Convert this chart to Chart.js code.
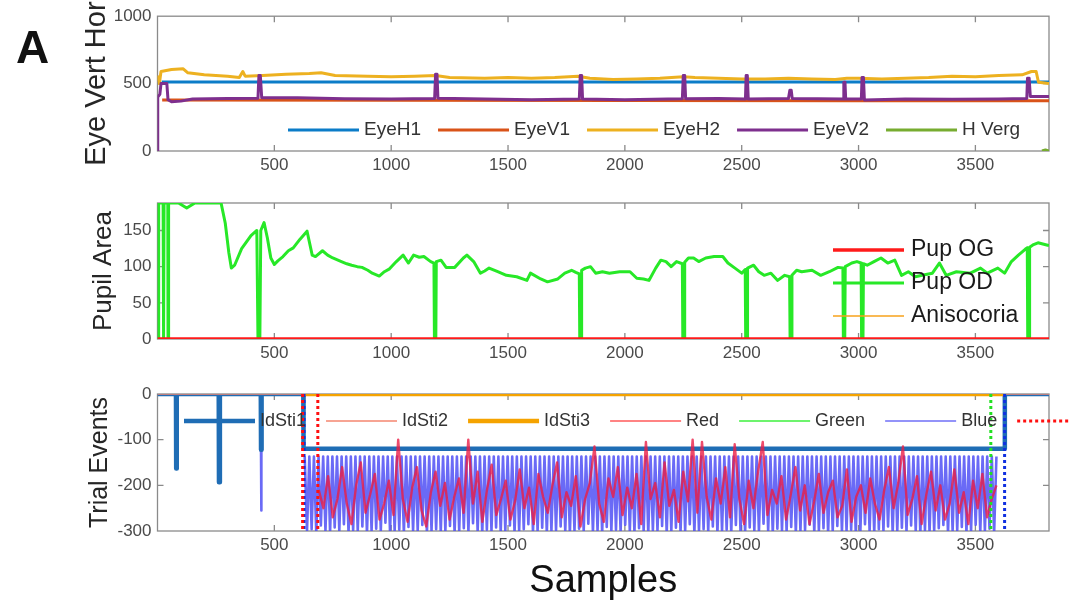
<!DOCTYPE html>
<html>
<head>
<meta charset="utf-8">
<script src="https://cdn.jsdelivr.net/npm/chart.js@4.4.1/dist/chart.umd.min.js"></script>
<style>
  body { margin: 0; background: #fff; }
  #wrap { position: relative; width: 1069px; height: 601px; overflow: hidden; background: #fff; }
  #wrap canvas { position: absolute; left: 0; }
  #panelA { position: absolute; left: 16px; top: 24px; font: bold 46px/46px "Liberation Sans", Arial, sans-serif; color: #111; }
</style>
</head>
<body>
<div id="wrap">
  <canvas id="eye" width="1069" height="185" style="top:0"></canvas>
  <canvas id="pupil" width="1069" height="190" style="top:185px"></canvas>
  <canvas id="trial" width="1069" height="226" style="top:375px"></canvas>
  <div id="panelA">A</div>
</div>
<script>
const FONT = '"Liberation Sans", Arial, sans-serif';
const TICK_COLOR = '#4a4a4a';
const X_MAX = 3815;
const xTickVals = [500, 1000, 1500, 2000, 2500, 3000, 3500];
const eyeYTicks = [0, 500, 1000];
const pupilYTicks = [0, 50, 100, 150];
const trialYTicks = [-300, -200, -100, 0];

// ---- panel 1: eye position, [sample, value]
const eyeH1 = [[18, 512], [3815, 512]];
const eyeV1 = [[20, 378], [1000, 376], [2000, 374], [3000, 373], [3815, 372]];
const eyeH2 = [[0, 560], [8, 500], [15, 590], [60, 605], [110, 610], [130, 580], [200, 565], [300, 555],
  [350, 545], [365, 590], [375, 555], [450, 560], [550, 570], [650, 575], [700, 580], [760, 560],
  [900, 555], [1000, 550], [1100, 555], [1190, 560], [1250, 545], [1400, 540], [1500, 545], [1600, 540],
  [1700, 545], [1800, 555], [1850, 540], [1950, 530], [2050, 535], [2150, 540], [2250, 550], [2300, 545],
  [2400, 540], [2500, 535], [2600, 535], [2700, 540], [2800, 535], [2900, 530], [2950, 540], [3000, 540],
  [3100, 535], [3200, 540], [3300, 545], [3400, 555], [3500, 550], [3600, 560], [3700, 565], [3740, 590],
  [3760, 590], [3770, 510], [3815, 500]];
const eyeV2 = [[0, 0], [1, 400], [10, 420], [15, 500], [40, 500], [45, 380], [60, 365], [100, 370],
  [150, 385], [300, 390], [430, 392], [434, 560], [440, 560], [446, 395], [600, 395], [800, 388],
  [1000, 385], [1186, 390], [1190, 570], [1196, 570], [1200, 392], [1400, 385], [1600, 380], [1805, 385],
  [1809, 560], [1815, 560], [1819, 385], [2000, 380], [2246, 388], [2250, 560], [2256, 560], [2260, 388],
  [2400, 390], [2516, 385], [2519, 560], [2524, 560], [2528, 385], [2700, 390], [2706, 450], [2712, 450],
  [2716, 390], [2934, 385], [2937, 510], [2942, 510], [2945, 385], [3012, 385], [3015, 545], [3021, 545],
  [3025, 378], [3200, 385], [3400, 383], [3600, 385], [3720, 390], [3723, 540], [3730, 540], [3735, 405],
  [3815, 405]];
const hVerg = [[3785, 0], [3800, 8], [3815, 0]];

// ---- panel 2: pupil area
const pupOG = [[0, 0], [3815, 0]];
const aniso = [[0, 0], [3815, 0]];
const pupOD = [[0, 0], [4, 0], [5, 188], [24, 188], [25, 0], [27, 0], [28, 188], [44, 188], [45, 0], [47, 0], [48, 188],
  [90, 188], [125, 181], [160, 188], [272, 188], [290, 160], [305, 120], [316, 98], [330, 102], [360, 125],
  [400, 143], [425, 150], [430, 0], [438, 0], [442, 150], [456, 161], [470, 140], [485, 112], [500, 103],
  [515, 108], [537, 114], [560, 122], [581, 126], [610, 138], [640, 149], [662, 116], [676, 114], [706, 122],
  [728, 116], [750, 112], [787, 107], [810, 104], [831, 102], [855, 100], [875, 99], [900, 95], [919, 91],
  [949, 87], [971, 93], [993, 97], [1022, 107], [1051, 116], [1074, 105], [1096, 116], [1120, 113],
  [1140, 114], [1169, 107], [1183, 105], [1185, 0], [1191, 0], [1193, 107], [1213, 109], [1235, 99],
  [1272, 99], [1309, 112], [1324, 116], [1353, 107], [1382, 91], [1400, 94], [1419, 98], [1456, 93],
  [1493, 88], [1537, 86], [1581, 81], [1596, 91], [1640, 83], [1669, 79], [1713, 83], [1743, 91],
  [1772, 95], [1790, 92], [1805, 90], [1807, 0], [1813, 0], [1815, 95], [1831, 98], [1853, 100], [1875, 91],
  [1904, 93], [1934, 91], [1978, 93], [2022, 93], [2051, 84], [2080, 83], [2103, 81], [2132, 98],
  [2154, 109], [2176, 107], [2198, 100], [2221, 107], [2246, 104], [2248, 0], [2254, 0], [2256, 106],
  [2272, 112], [2294, 112], [2316, 107], [2346, 112], [2382, 114], [2419, 114], [2441, 105], [2471, 98],
  [2500, 91], [2515, 96], [2517, 0], [2523, 0], [2525, 98], [2551, 102], [2573, 93], [2596, 88],
  [2625, 91], [2654, 81], [2684, 88], [2705, 86], [2707, 0], [2713, 0], [2715, 88], [2735, 95],
  [2757, 93], [2801, 95], [2838, 88], [2875, 93], [2912, 99], [2933, 98], [2935, 0], [2941, 0],
  [2943, 100], [2971, 105], [2993, 107], [3011, 105], [3013, 0], [3019, 0], [3021, 104], [3037, 102],
  [3066, 107], [3096, 112], [3125, 105], [3155, 109], [3184, 88], [3213, 93], [3243, 86], [3272, 88],
  [3316, 91], [3346, 105], [3375, 88], [3419, 93], [3478, 91], [3522, 98], [3551, 91], [3596, 98],
  [3625, 91], [3654, 107], [3684, 116], [3713, 124], [3722, 126], [3724, 0], [3730, 0], [3732, 127],
  [3746, 130], [3768, 133], [3805, 130], [3815, 129]];

// ---- panel 3: trial events
const idSti1 = [[0, 0], [79, 0], [80, -163], [82, -163], [83, 0], [262, 0], [263, -193], [266, -193], [267, 0],
  [442, 0], [443, -122], [445, -122], [446, 0], [624, 0], [625, -120], [3625, -120], [3626, 0], [3815, 0]];
const idSti2 = [[0, 0], [3815, 0]];
const idSti3 = [[625, 0], [3625, 0]];
const greenTrace = [];
const redStart = 690, redStep = 20;
const redVals = [
  -210, -250, -180, -270, -230, -160, -240, -285, -200, -150,
  -260, -220, -175, -275, -240, -190, -265, -100, -230, -280,
  -205, -160, -255, -290, -215, -170, -245, -195, -275, -225,
  -185, -260, -100, -240, -170, -280, -210, -155, -265, -230,
  -190, -275, -235, -165, -250, -205, -285, -175, -225, -260,
  -200, -150, -270, -215, -245, -180, -290, -230, -195, -115,
  -240, -280, -185, -225, -160, -265, -205, -250, -175, -285,
  -105, -230, -195, -270, -150, -245, -210, -280, -170, -235,
  -100, -260, -105, -225, -275, -185, -240, -160, -270, -110,
  -230, -285, -190, -250, -170, -105, -265, -210, -240, -180,
  -275, -220, -160, -255, -200, -285, -235, -175, -260, -215,
  -190, -270, -245, -165, -280, -225, -200, -260, -185, -240,
  -275, -210, -160, -250, -195, -115, -265, -230, -180, -285,
  -220, -170, -255, -200, -275, -240, -165, -260, -215, -285,
  -190, -250, -175, -270, -230, -200];
const blueLead = [[443, -125], [444, -255], [445, -125]];
const blueStart = 630, blueEnd = 3590, blueTop = -137;
const blueLows = [
  -300, -296, -305, -288, -300, -302, -292, -300, -285, -304, -298, -300, -290, -306, -300,
  -295, -300, -282, -303, -300, -297, -305, -291, -300, -299, -287, -304, -300, -296, -302,
  -300, -289, -305, -300, -294, -301, -283, -300, -306, -297, -300, -292, -303, -300, -288,
  -304, -300, -296, -285, -302, -300, -293, -305, -300, -298, -290, -301, -306, -300, -295,
  -300, -284, -303, -299, -305, -291, -300, -297, -302, -286, -300, -304, -294, -300, -305,
  -298, -300, -289, -306, -300, -293, -302, -300, -285, -304, -300, -296, -301, -290, -305,
  -300, -297, -303, -287, -300, -305, -292, -299, -301, -284, -300, -306, -295, -300, -302,
  -291, -304, -300, -298, -286, -303, -300, -294, -305, -300, -289, -302, -300, -297, -306,
  -300, -285, -301, -304, -296, -300, -290, -305, -300, -293, -302, -288, -300, -306, -299,
  -303, -300, -294, -287, -305, -300, -298, -291, -304, -300, -286, -302, -300, -295, -305];
const redMarks = [621, 686];
const greenMarks = [3566];
const blueMarks = [627, 3625];

function pts(arr) {
  return arr.map(([x, y]) => ({ x, y }));
}

function line(label, data, color, width, order, extra) {
  return Object.assign({
    label, data, borderColor: color, borderWidth: width, order,
    pointRadius: 0, fill: false
  }, extra || {});
}

function markPts(xs) {
  const out = [];
  xs.forEach(x => out.push({ x, y: 0 }, { x, y: -300 }, { x, y: null }));
  return out;
}

// MATLAB style box with inward ticks
const boxPlugin = {
  id: 'matlabBox',
  beforeDatasetsDraw(chart) {
    const { ctx, chartArea: a, scales: { x, y } } = chart;
    ctx.save();
    ctx.strokeStyle = '#8a8a8a';
    ctx.lineWidth = 1.3;
    ctx.strokeRect(a.left, a.top, a.right - a.left, a.bottom - a.top);
    ctx.beginPath();
    x.ticks.forEach(t => {
      if (t.value <= x.min || t.value >= x.max) return;
      const px = x.getPixelForValue(t.value);
      ctx.moveTo(px, a.top); ctx.lineTo(px, a.top + 6);
      ctx.moveTo(px, a.bottom); ctx.lineTo(px, a.bottom - 6);
    });
    y.ticks.forEach(t => {
      if (t.value <= y.min || t.value >= y.max) return;
      const py = y.getPixelForValue(t.value);
      ctx.moveTo(a.left, py); ctx.lineTo(a.left + 6, py);
      ctx.moveTo(a.right, py); ctx.lineTo(a.right - 6, py);
    });
    ctx.stroke();
    ctx.restore();
  }
};

// legend drawn inside the axes, no frame
const legendPlugin = {
  id: 'inlineLegend',
  afterDraw(chart, args, opts) {
    const ctx = chart.ctx;
    ctx.save();
    ctx.font = opts.font;
    ctx.textBaseline = 'middle';
    let x = opts.x, y = opts.y;
    chart.data.datasets.forEach(ds => {
      if (ds.legend === false) return;
      ctx.beginPath();
      ctx.strokeStyle = ds.legendColor || ds.borderColor;
      ctx.lineWidth = ds.legendWidth || ds.borderWidth;
      ctx.setLineDash(ds.borderDash || []);
      ctx.moveTo(x, y);
      ctx.lineTo(x + opts.lineLen, y);
      ctx.stroke();
      ctx.setLineDash([]);
      ctx.fillStyle = opts.color;
      ctx.fillText(ds.label, x + opts.lineLen + opts.gap, y);
      if (opts.vertical) y += opts.rowGap;
      else x += opts.lineLen + opts.gap + ctx.measureText(ds.label).width + opts.itemGap;
    });
    ctx.restore();
  }
};

function panel(id, o) {
  return new Chart(document.getElementById(id), {
    type: 'line',
    data: { datasets: o.datasets },
    options: {
      responsive: false,
      animation: false,
      events: [],
      layout: { padding: { left: o.padLeft, right: 20, top: o.padTop, bottom: 0 } },
      elements: { line: { tension: 0, borderJoinStyle: 'round', borderCapStyle: 'butt' }, point: { radius: 0 } },
      plugins: {
        legend: { display: false },
        tooltip: { enabled: false },
        inlineLegend: o.legend
      },
      scales: {
        x: {
          type: 'linear', min: 0, max: X_MAX,
          afterBuildTicks: s => { s.ticks = xTickVals.map(v => ({ value: v })); },
          ticks: {
            autoSkip: false, maxRotation: 0, padding: 4,
            color: TICK_COLOR, font: { family: FONT, size: 17 },
            callback: v => String(v)
          },
          grid: { display: false, drawTicks: false },
          border: { display: false },
          title: o.xTitle ? {
            display: true, text: o.xTitle, color: '#111',
            font: { family: FONT, size: 38, lineHeight: 1 }, padding: { top: 2, bottom: 0 }
          } : { display: false },
          afterFit: s => { s.height = o.xHeight; }
        },
        y: {
          min: o.yMin, max: o.yMax,
          afterBuildTicks: s => { s.ticks = o.yTicks.map(v => ({ value: v })); },
          ticks: {
            autoSkip: false, padding: 6,
            color: TICK_COLOR, font: { family: FONT, size: 17 },
            callback: v => String(v)
          },
          grid: { display: false, drawTicks: false },
          border: { display: false },
          title: {
            display: true, text: o.yTitle, color: '#262626',
            font: { family: FONT, size: o.yTitleSize, lineHeight: 1 }, padding: 0
          },
          afterFit: s => { s.width = 157.5 - o.padLeft; }
        }
      }
    },
    plugins: [boxPlugin, legendPlugin]
  });
}

panel('eye', {
  padLeft: 82, padTop: 14, xHeight: 34,
  yMin: 0, yMax: 1000, yTicks: eyeYTicks, yTitle: 'Eye Vert Hor', yTitleSize: 29,
  legend: { x: 288, y: 130, font: '19px ' + FONT, color: '#333', lineLen: 71, gap: 5, itemGap: 17 },
  datasets: [
    line('EyeH1', pts(eyeH1), '#0b7cc8', 3, 50),
    line('EyeV1', pts(eyeV1), '#D95319', 3, 40),
    line('EyeH2', pts(eyeH2), '#EDB120', 3, 30),
    line('EyeV2', pts(eyeV2), '#7E2F8E', 3, 20),
    line('H Verg', pts(hVerg), '#77AC30', 3, 10)
  ]
});

panel('pupil', {
  padLeft: 91, padTop: 18, xHeight: 36,
  yMin: 0, yMax: 188, yTicks: pupilYTicks, yTitle: 'Pupil Area', yTitleSize: 26,
  legend: { x: 833, y: 65, font: '23px ' + FONT, color: '#1a1a1a', lineLen: 71, gap: 7, vertical: true, rowGap: 33 },
  datasets: [
    line('Pup OG', pts(pupOG), '#ff1a1a', 3.5, 30),
    line('Pup OD', pts(pupOD), '#27e827', 3, 40),
    line('Anisocoria', pts(aniso), '#f7a21b', 1.5, 50)
  ]
});

const bluePts = pts(blueLead).concat([{ x: 446, y: null }]);
const blueStep = (blueEnd - blueStart) / blueLows.length;
blueLows.forEach((low, i) => {
  const x = blueStart + i * blueStep;
  bluePts.push({ x, y: blueTop }, { x: x + blueStep / 2, y: low });
});
bluePts.push({ x: blueEnd, y: blueTop });
const redPts = redVals.map((v, i) => ({ x: redStart + i * redStep, y: v }));

panel('trial', {
  padLeft: 88, padTop: 19, xHeight: 70, xTitle: 'Samples',
  yMin: -300, yMax: 0, yTicks: trialYTicks, yTitle: 'Trial Events', yTitleSize: 25,
  legend: { x: 184, y: 46, font: '18px ' + FONT, color: '#333', lineLen: 71, gap: 5, itemGap: 20 },
  datasets: [
    line('IdSti1', pts(idSti1), '#1f6db5', 4.5, 50),
    line('IdSti2', pts(idSti2), '#f4866f', 1.5, 45),
    line('IdSti3', pts(idSti3), '#f5a300', 4.5, 40),
    line('Red', redPts, 'rgba(235,30,70,0.8)', 2.4, 30, { legendColor: '#ff5a5a', legendWidth: 1.5 }),
    line('Green', pts(greenTrace), '#3cf03c', 1.5, 35),
    line('Blue', bluePts, 'rgba(80,80,245,0.85)', 2.6, 60, { legendColor: '#6f6ff7', legendWidth: 1.5 }),
    line('', markPts(redMarks), '#ff1010', 3, 10, { borderDash: [3, 3] }),
    line('', markPts(greenMarks), '#22e022', 3, 11, { borderDash: [3, 3], legend: false }),
    line('', markPts(blueMarks), '#1030e0', 3, 12, { borderDash: [3, 3], legend: false })
  ]
});
</script>
</body>
</html>
